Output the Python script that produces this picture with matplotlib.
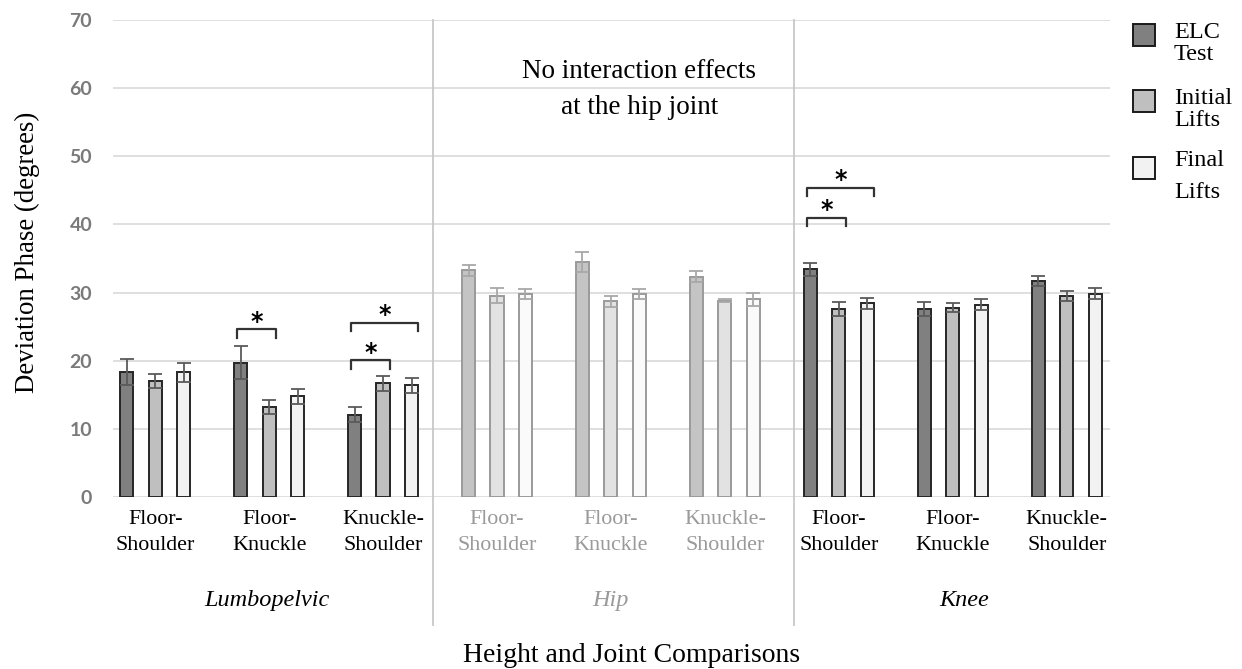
import numpy as np
import matplotlib.pyplot as plt
from matplotlib.patches import Rectangle
import matplotlib.transforms as mtransforms

# Deviation phase means and error bars, per joint and lift height
heights = ["Floor-\nShoulder", "Floor-\nKnuckle", "Knuckle-\nShoulder"]
joints = ["Lumbopelvic", "Hip", "Knee"]
conditions = [["ELC", "Test"], ["Initial", "Lifts"], ["Final", "Lifts"]]

elc_test = [18.3, 19.7, 12.1, 33.3, 34.5, 32.3, 33.4, 27.6, 31.7]
initial_lifts = [17.0, 13.2, 16.7, 29.5, 28.7, 28.8, 27.6, 27.8, 29.5]
final_lifts = [18.3, 14.8, 16.4, 29.8, 29.8, 29.0, 28.4, 28.2, 29.8]
elc_err = [1.9, 2.4, 1.1, 0.8, 1.5, 0.8, 1.0, 1.0, 0.8]
initial_err = [1.0, 1.0, 1.1, 1.1, 0.8, 0.2, 1.0, 0.6, 0.8]
final_err = [1.4, 1.1, 1.1, 0.7, 0.7, 1.0, 0.8, 0.8, 0.8]

# significant pairs: (group index, first bar, second bar, bracket height)
sig_pairs = [(1, 0, 1, 24.6), (2, 0, 1, 20.1), (2, 0, 2, 25.6),
             (6, 0, 1, 41.0), (6, 0, 2, 45.4)]

plt.rcParams['font.family'] = ['Liberation Serif', 'DejaVu Serif']

fig = plt.figure(figsize=(12.42, 6.69), dpi=100)
ax = fig.add_axes([113 / 1242, 1 - 497 / 669, 997 / 1242, 477 / 669])

x = np.arange(9)
width = 0.115
offset = 0.25

solid = ['#808080', '#bfbfbf', '#f2f2f2']
faded = ['#c4c4c4', '#e2e2e2', '#fafafa']
series = [elc_test, initial_lifts, final_lifts]
errors = [elc_err, initial_err, final_err]

for k in range(3):
    for i in range(9):
        hip = 3 <= i <= 5
        fc = faded[k] if hip else solid[k]
        ec = '#9a9a9a' if hip else '#262626'
        xi = x[i] + (k - 1) * offset
        ax.bar(xi, series[k][i], width, color=fc, edgecolor=ec,
               linewidth=1.4, zorder=3)
        ax.errorbar(xi, series[k][i], yerr=errors[k][i], fmt='none',
                    ecolor='#a8a8a8' if hip else '#5a5a5a',
                    elinewidth=1.3, capsize=5, capthick=1.3, zorder=4)

# significance brackets with asterisks
for g, a, b, h in sig_pairs:
    xa = x[g] + (a - 1) * offset - 0.03
    xb = x[g] + (b - 1) * offset + 0.06
    ax.plot([xa, xa, xb, xb], [h - 1.3, h, h, h - 1.3], color='#333333',
            linewidth=1.6, zorder=5, solid_joinstyle='round')
    ax.text((xa + xb) / 2, h + 1.1, '*', ha='center', va='center',
            fontsize=17, fontweight='bold', family='DejaVu Sans')

ax.set_ylim(0, 70)
ax.set_xlim(-0.37, 8.38)
ax.set_yticks(range(0, 71, 10))
ax.yaxis.grid(True, color='#d9d9d9', linewidth=1.2, zorder=0)
ax.set_axisbelow(True)
for s in ax.spines.values():
    s.set_visible(False)
ax.tick_params(axis='both', length=0)
ax.tick_params(axis='y', pad=15, labelcolor='#7a7a7a')
for lbl in ax.get_yticklabels():
    lbl.set_family('Lato')
    lbl.set_fontweight('bold')
    lbl.set_fontsize(14)

ax.set_xticks(x)
ax.set_xticklabels(heights * 3, fontsize=15.8, linespacing=1.5)
ax.tick_params(axis='x', pad=9)
for i, lbl in enumerate(ax.get_xticklabels()):
    if 3 <= i <= 5:
        lbl.set_color('#9a9a9a')

# joint separators and joint names below the ticks
trans = mtransforms.blended_transform_factory(ax.transData, ax.transAxes)
for xs in [2.44, 5.61]:
    ax.axvline(xs, ymin=-0.268, ymax=1.0, color='#c8c8c8', linewidth=1.3,
               clip_on=False, zorder=1)
for xc, name in zip([0.98, 4.0, 7.1], joints):
    ax.text(xc, -0.218, name, transform=trans, ha='center', va='center',
            fontsize=17.5, style='italic',
            color='#9a9a9a' if name == 'Hip' else 'black')

ax.text(4.25, 59.8, "No interaction effects\nat the hip joint", ha='center',
        va='center', fontsize=19.5, linespacing=1.55)

fig.text(632 / 1242, 1 - 655 / 669, "Height and Joint Comparisons",
         ha='center', va='center', fontsize=20)
fig.text(27 / 1242, 1 - 252 / 669, "Deviation Phase (degrees)", ha='center',
         va='center', rotation=90, fontsize=19.4)

# legend drawn as boxes with labels
box_y = [34.5, 101, 167.5]
line_y = [(33, 55), (98, 120), (161, 193)]
for yc, (y1, y2), lab, fc in zip(box_y, line_y, conditions, solid):
    fig.patches.append(Rectangle((1133 / 1242, 1 - (yc + 11) / 669),
                                 22 / 1242, 22 / 669, facecolor=fc,
                                 edgecolor='#1a1a1a', linewidth=1.4,
                                 transform=fig.transFigure, figure=fig))
    fig.text(1174 / 1242, 1 - y1 / 669, lab[0], ha='left', va='center',
             fontsize=17.5)
    fig.text(1174 / 1242, 1 - y2 / 669, lab[1], ha='left', va='center',
             fontsize=17.5)

fig.savefig('out.png', dpi=100)
